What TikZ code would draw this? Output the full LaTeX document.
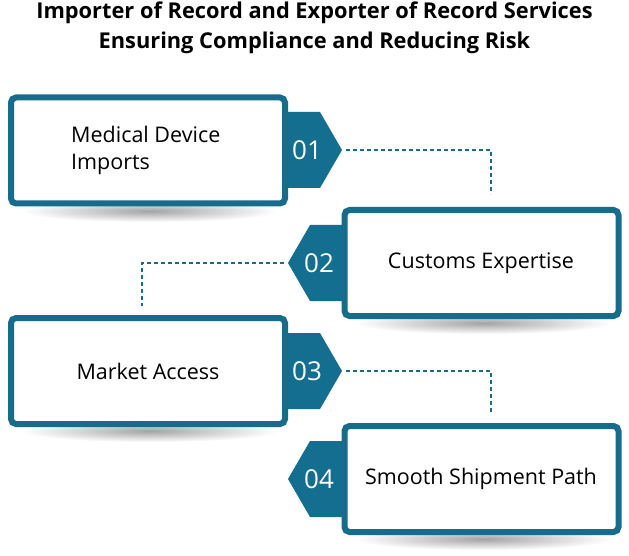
\documentclass[tikz,border=0pt]{standalone}
\usepackage{fontspec}
\setmainfont{Open Sans}
\definecolor{teal1}{HTML}{176B8B}
\definecolor{tagc}{HTML}{136E8F}
\begin{document}
\begin{tikzpicture}[x=1pt,y=-1pt,
 box/.style={draw=teal1, line width=6pt, rounded corners=5pt, fill=white, minimum width=274pt, minimum height=106pt, inner sep=0pt},
 lbl/.style={font=\fontsize{21.5}{27}\selectfont, text=black, inner sep=0pt},
 num/.style={font=\fontsize{26}{28}\selectfont, text=white},
 tag/.style={fill=tagc},
 conn/.style={draw=teal1, line width=1.3pt, dash pattern=on 4pt off 3pt},
 shadowe/.style={inner color=black!36, outer color=white}]
\useasboundingbox (0,0) rectangle (629,556);
\fill[white] (0,0) rectangle (629,556);
% title
\node[font=\bfseries\fontsize{21.8}{30}\selectfont, align=center, text=black] (title) at (314.5,28) {Importer of Record and Exporter of Record Services\\Ensuring Compliance and Reducing Risk};
% shadows
\shade[shadowe] (150,211) ellipse [x radius=128, y radius=11];
\shade[shadowe] (483,323) ellipse [x radius=128, y radius=11];
\shade[shadowe] (150,431) ellipse [x radius=128, y radius=11];
\shade[shadowe] (483,539) ellipse [x radius=128, y radius=11];
% boxes
\node[box] (b1) at (148,150.5) {};
\node[box] (b2) at (481.5,263) {};
\node[box] (b3) at (148,371) {};
\node[box] (b4) at (481.5,479) {};
% tags
\fill[tag] (285,112) -- (320,112) -- (342,150) -- (320,188) -- (285,188) -- cycle;
\fill[tag] (344,225) -- (310,225) -- (288,263) -- (310,301) -- (344,301) -- cycle;
\fill[tag] (285,333) -- (320,333) -- (342,371) -- (320,409) -- (285,409) -- cycle;
\fill[tag] (344,441) -- (310,441) -- (288,479) -- (310,517) -- (344,517) -- cycle;
\node[num] (n1) at (307,150) {01};
\node[num] (n2) at (319,263) {02};
\node[num] (n3) at (307,371) {03};
\node[num] (n4) at (319,479) {04};
% labels
\node[lbl, align=left, anchor=west] (l1) at (71,150) {Medical Device\\Imports};
\node[lbl] (l2) at (481,263) {Customs Expertise};
\node[lbl] (l3) at (148,371) {Market Access};
\node[lbl] (l4) at (481,479) {Smooth Shipment Path};
% connectors
\coordinate (tip1) at (346,150);
\coordinate (tip2) at (284,263);
\coordinate (tip3) at (346,371);
\coordinate (c1) at (491,194);
\coordinate (c2) at (142,306);
\coordinate (c3) at (491,412);
\draw[conn] (tip1) -| (c1);
\draw[conn] (tip2) -| (c2);
\draw[conn] (tip3) -| (c3);
\end{tikzpicture}
\end{document}
